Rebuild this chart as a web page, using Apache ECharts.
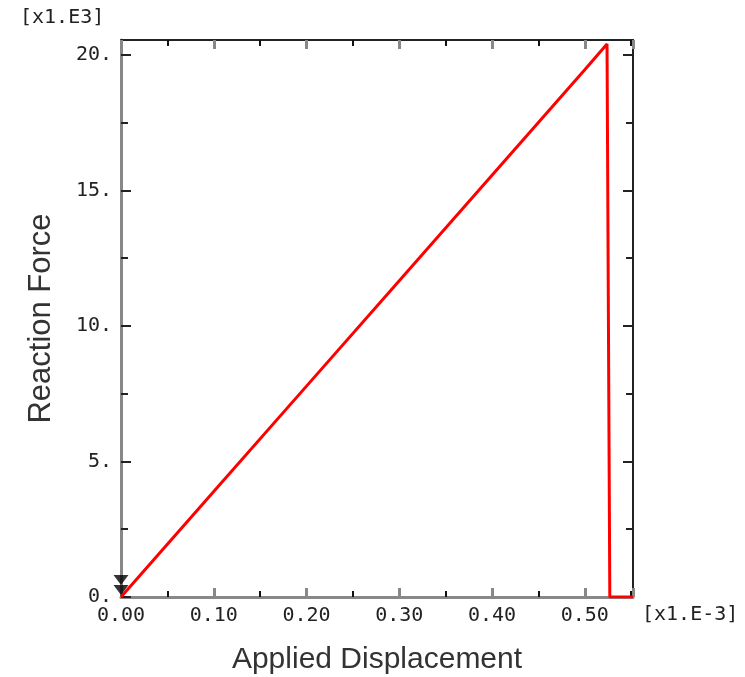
<!DOCTYPE html>
<html>
<head>
<meta charset="utf-8">
<script src="https://cdn.jsdelivr.net/npm/echarts@6/dist/echarts.min.js"></script>
<style>
  html, body {margin: 0; padding: 0; background: #fff;}
  #chart {width: 745px; height: 677px;}
</style>
</head>
<body>
<div id="chart"></div>
<script>
// applied displacement [x1.E-3] and reaction force [x1.E3]
const displacement = [0, 0.1, 0.2, 0.3, 0.4, 0.5, 0.524, 0.527, 0.552];
const reactionForce = [0, 3.89, 7.78, 11.67, 15.56, 19.45, 20.4, 0, 0];
// boundary condition symbols at the origin
const bcPoints = [[0, 0]];
const xTickLabels = ['0.00', '0.10', '0.20', '0.30', '0.40', '0.50'];
const yTickLabels = ['0.', '5.', '10.', '15.', '20.'];

const chart = echarts.init(document.getElementById('chart'));

const tickFont = {
  fontFamily: 'DejaVu Sans Mono',
  fontSize: 20,
  color: '#222'
};

const xLabel = (v) => {
  const i = Math.round(v / 0.1);
  return Math.abs(v - i * 0.1) < 1e-6 && xTickLabels[i] ? xTickLabels[i] : '';
};
const yLabel = (v) => {
  const i = Math.round(v / 5);
  return Math.abs(v - i * 5) < 1e-6 && yTickLabels[i] ? yTickLabels[i] : '';
};

const xCommon = {
  type: 'value',
  min: 0,
  max: 0.552,
  interval: 0.1,
  splitLine: {show: false},
  axisTick: {show: true, inside: true, length: 9, lineStyle: {color: '#888', width: 3}},
  minorTick: {show: true, splitNumber: 2, length: 6, lineStyle: {color: '#111', width: 2}},
  minorSplitLine: {show: false}
};
const yCommon = {
  type: 'value',
  min: 0,
  max: 20.55,
  interval: 5,
  splitLine: {show: false},
  axisTick: {show: true, inside: true, length: 10, lineStyle: {color: '#222', width: 2}},
  minorTick: {show: true, splitNumber: 2, length: 7, lineStyle: {color: '#222', width: 2}},
  minorSplitLine: {show: false}
};

chart.setOption({
  animation: false,
  backgroundColor: '#fff',
  grid: {left: 121, top: 40, right: 112, bottom: 80, outerBoundsMode: 'none', containLabel: false},
  xAxis: [
    Object.assign({}, xCommon, {
      position: 'bottom',
      axisLine: {show: true, onZero: false, lineStyle: {color: '#888', width: 3}},
      axisLabel: Object.assign({margin: 9, formatter: xLabel}, tickFont),
      name: 'Applied Displacement',
      nameLocation: 'middle',
      nameGap: 48,
      nameTextStyle: {fontFamily: 'Liberation Sans', fontSize: 30, color: '#333'}
    }),
    Object.assign({}, xCommon, {
      position: 'top',
      axisLine: {show: true, onZero: false, lineStyle: {color: '#222', width: 2}},
      axisLabel: {show: false}
    })
  ],
  yAxis: [
    Object.assign({}, yCommon, {
      position: 'left',
      axisLine: {show: true, onZero: false, lineStyle: {color: '#888', width: 3}},
      axisLabel: Object.assign({margin: 9, formatter: yLabel}, tickFont),
      name: 'Reaction Force',
      nameLocation: 'middle',
      nameGap: 64,
      nameTextStyle: {fontFamily: 'Liberation Sans', fontSize: 31, color: '#333'}
    }),
    Object.assign({}, yCommon, {
      position: 'right',
      axisLine: {show: true, onZero: false, lineStyle: {color: '#222', width: 2}},
      axisLabel: {show: false}
    })
  ],
  graphic: [
    {type: 'text', left: 20, top: 8, style: {text: '[x1.E3]', font: '20px "DejaVu Sans Mono"', fill: '#222'}},
    {type: 'text', left: 642, top: 605, style: {text: '[x1.E-3]', font: '20px "DejaVu Sans Mono"', fill: '#222'}}
  ],
  series: [
    {
      type: 'line',
      data: displacement.map((d, i) => [d, reactionForce[i]]),
      showSymbol: false,
      lineStyle: {color: '#ff0000', width: 3},
      z: 3
    },
    {
      type: 'scatter',
      data: bcPoints,
      symbol: 'triangle',
      symbolRotate: 180,
      symbolSize: [15, 10],
      symbolOffset: [0, -17],
      itemStyle: {color: '#000'},
      z: 4
    },
    {
      type: 'scatter',
      data: bcPoints,
      symbol: 'triangle',
      symbolRotate: 180,
      symbolSize: [15, 10],
      symbolOffset: [0, -7],
      itemStyle: {color: '#000'},
      z: 4
    }
  ]
});
</script>
</body>
</html>
